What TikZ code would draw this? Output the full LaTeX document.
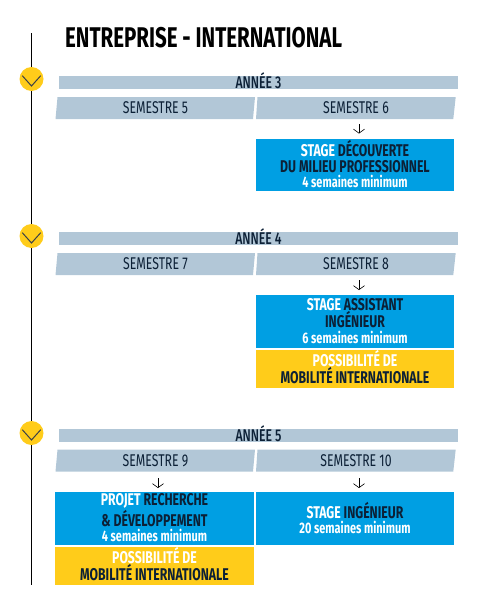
\documentclass[tikz,border=0pt]{standalone}
\usepackage{fontspec}
\usetikzlibrary{arrows.meta}
\setmainfont{Fira Sans}
\newfontfamily\regf[FakeStretch=0.72]{Fira Sans}
\newfontfamily\medf[FakeStretch=0.72,UprightFont=* Medium]{Fira Sans}
\newfontfamily\boldf[FakeStretch=0.72,UprightFont=* Bold]{Fira Sans}
\definecolor{barc}{HTML}{B2C7D7}
\definecolor{bluec}{HTML}{009FE3}
\definecolor{yelc}{HTML}{FFCC1A}
\definecolor{navyc}{HTML}{0C2036}
\definecolor{chevc}{HTML}{3A4048}
\newcommand{\wt}[1]{\textcolor{white}{#1}}
\tikzset{
  barfill/.style={fill=barc,draw=none},
  titlelabel/.style={inner sep=0,anchor=west,text=black,font=\boldf\fontsize{28.5}{30}\selectfont},
  yearlabel/.style={inner sep=0,text=navyc,font=\medf\fontsize{17}{18}\selectfont},
  semlabel/.style={inner sep=0,text=navyc,font=\regf\fontsize{17}{18}\selectfont,minimum height=22pt},
  boxbase/.style={inner sep=0,align=center,text=navyc,minimum width=198pt,font=\boldf\fontsize{17}{15.5}\selectfont},
  bluebox/.style={boxbase,fill=bluec,minimum height=52.5pt},
  yellowbox/.style={boxbase,fill=yelc,minimum height=38pt},
  yeardot/.style={circle,fill=yelc,minimum size=24pt,inner sep=0},
  chev/.style={draw=chevc,line width=1pt},
  spine/.style={draw=black,line width=0.9pt},
  arr/.style={draw=black,line width=0.6pt,-{Straight Barb[length=4pt,width=11pt]}}
}
\newcommand{\sm}[1]{{\boldf\fontsize{15.2}{15.5}\selectfont\textcolor{white}{#1}}\rule[-1.5pt]{0pt}{1.5pt}}
\newcommand{\lowpad}{\rule[-4pt]{0pt}{4pt}}
\begin{document}
\begin{tikzpicture}[x=1pt,y=-1pt]
\useasboundingbox (0,0) rectangle (495,608);
\coordinate (top) at (31.5,33);
\coordinate (bot) at (31.5,585);
\draw[spine] (top) -- (bot);
\node[titlelabel] (title) at (65,38) {ENTREPRISE - INTERNATIONAL};
% circles
\node[yeardot] (m3) at (31.5,79) {};
\node[yeardot] (m4) at (31.5,236) {};
\node[yeardot] (m5) at (31.5,433) {};
\foreach \m in {m3,m4,m5}{
  \draw[chev] ([shift={(-9.2pt,3.3pt)}]\m.center) -- ([shift={(0pt,-7pt)}]\m.center) -- ([shift={(9.2pt,3.3pt)}]\m.center);
}
% year 3
\fill[barfill] (59,76) rectangle (458,89);
\node[yearlabel] (y3) at (258.5,81) {ANNÉE 3};
\fill[barfill] (57.5,97) -- (255,97) -- (253,119) -- (55.5,119) -- cycle;
\fill[barfill] (257.5,97) -- (455.7,97) -- (453.3,119) -- (256,119) -- cycle;
\node[semlabel] (s5) at (155.5,108) {SEMESTRE 5};
\node[semlabel] (s6) at (356,108) {SEMESTRE 6};
\node[bluebox] (b6) at (355,165) {\wt{STAGE} DÉCOUVERTE\\DU MILIEU PROFESSIONNEL\\\sm{4 semaines minimum}};
\draw[arr,shorten <=5pt,shorten >=5pt] ([xshift=3pt]s6.south) -- ([xshift=4pt]b6.north);
% year 4
\fill[barfill] (59,232) rectangle (458,245);
\node[yearlabel] (y4) at (258.5,237) {ANNÉE 4};
\fill[barfill] (57.5,253) -- (255,253) -- (253,275) -- (55.5,275) -- cycle;
\fill[barfill] (257.5,253) -- (455.7,253) -- (453.3,275) -- (256,275) -- cycle;
\node[semlabel] (s7) at (155.5,264) {SEMESTRE 7};
\node[semlabel] (s8) at (356,264) {SEMESTRE 8};
\node[bluebox] (b8) at (355,321.5) {\wt{STAGE} ASSISTANT\\INGÉNIEUR\\\sm{6 semaines minimum}};
\node[yellowbox] (c8) at (355,369) {\wt{POSSIBILITÉ DE}\\MOBILITÉ INTERNATIONALE\lowpad};
\draw[arr,shorten <=5pt,shorten >=5pt] ([xshift=3pt]s8.south) -- ([xshift=4pt]b8.north);
% year 5
\fill[barfill] (59,429) rectangle (458,442);
\node[yearlabel] (y5) at (258.5,434) {ANNÉE 5};
\fill[barfill] (57.5,449.5) -- (255,449.5) -- (253,471.5) -- (55.5,471.5) -- cycle;
\fill[barfill] (257.5,449.5) -- (455.7,449.5) -- (453.3,471.5) -- (256,471.5) -- cycle;
\node[semlabel] (s9) at (155.5,460.5) {SEMESTRE 9};
\node[semlabel] (s10) at (356,460.5) {SEMESTRE 10};
\node[bluebox,minimum width=199pt] (b9) at (154.5,518.5) {\wt{PROJET} RECHERCHE\\\& DÉVELOPPEMENT\\\sm{4 semaines minimum}};
\node[yellowbox,minimum width=199pt] (c9) at (154.5,566) {\wt{POSSIBILITÉ DE}\\MOBILITÉ INTERNATIONALE\lowpad};
\node[bluebox] (b10) at (355,518.5) {\wt{STAGE} INGÉNIEUR\\\sm{20 semaines minimum}};
\draw[arr,shorten <=6.5pt,shorten >=4pt] ([xshift=2.5pt]s9.south) -- ([xshift=3.5pt]b9.north);
\draw[arr,shorten <=6.5pt,shorten >=4pt] ([xshift=3pt]s10.south) -- ([xshift=4pt]b10.north);
\end{tikzpicture}
\end{document}
